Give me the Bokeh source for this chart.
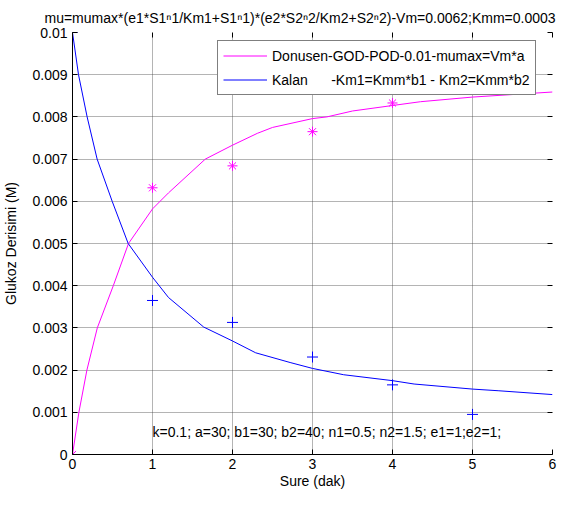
from bokeh.plotting import figure
from bokeh.models import FixedTicker, LinearAxis, Legend, LegendItem, Range1d, Title, Label
from bokeh.embed import file_html
from bokeh.resources import INLINE

FONT = "Liberation Sans"

title_text = "mu=mumax*(e1*S1\u207f1/Km1+S1\u207f1)*(e2*S2\u207f2/Km2+S2\u207f2)-Vm=0.0062;Kmm=0.0003"
x_label = "Sure (dak)"
y_label = "Glukoz Derisimi (M)"
legend_labels = ["Donusen-GOD-POD-0.01-mumax=Vm*a",
                 "Kalan\u00a0\u00a0\u00a0\u00a0\u00a0\u00a0-Km1=Kmm*b1 - Km2=Kmm*b2"]
note_text = "k=0.1; a=30; b1=30; b2=40; n1=0.5; n2=1.5; e1=1;e2=1;"

x_ticks = [0, 1, 2, 3, 4, 5, 6]
x_tick_labels = ["0", "1", "2", "3", "4", "5", "6"]
y_ticks = [0, 0.001, 0.002, 0.003, 0.004, 0.005, 0.006, 0.007, 0.008, 0.009, 0.01]
y_tick_labels = ["0", "0.001", "0.002", "0.003", "0.004", "0.005", "0.006", "0.007", "0.008", "0.009", "0.01"]

# model curves
donusen_t = [0, 0.08, 0.18, 0.31, 0.51, 0.70, 1.0, 1.2, 1.66, 2.0, 2.31, 2.5, 3.0, 3.18, 3.5, 4.0, 4.35, 5.0, 6.0]
donusen_y = [0, 0.001, 0.002, 0.003, 0.004, 0.005, 0.00582, 0.0062, 0.007, 0.00733, 0.00761, 0.00775,
             0.00796, 0.008, 0.00814, 0.00827, 0.00836, 0.00847, 0.00859]
kalan_t = [0, 0.075, 0.183, 0.308, 0.496, 0.696, 1.0, 1.2, 1.64, 2.0, 2.29, 2.72, 3.0, 3.39,
           4.0, 4.27, 5.0, 5.33, 6.0]
kalan_y = [0.01, 0.009, 0.008, 0.007, 0.006, 0.005, 0.0042, 0.00372, 0.00302, 0.00269,
           0.00241, 0.00218, 0.00204, 0.00189, 0.00175, 0.00167, 0.00155, 0.00151, 0.00142]

# measured points
donusen_pts_t = [0, 1, 2, 3, 4]
donusen_pts_y = [0, 0.00632, 0.00684, 0.00765, 0.00833]
kalan_pts_t = [0, 1, 2, 3, 4, 5]
kalan_pts_y = [0.01, 0.00365, 0.00313, 0.00231, 0.00165, 0.00095]

note_x = 1.0
note_y = 0.00053

MAGENTA = "#FF00FF"
BLUE = "#0000FF"

p = figure(width=560, height=491, x_range=Range1d(0, 6), y_range=Range1d(0, 0.01),
           output_backend="svg", toolbar_location=None,
           min_border_left=72, min_border_right=8, min_border_top=32, min_border_bottom=37)
p.background_fill_color = "white"
p.border_fill_color = "white"
p.outline_line_color = None

p.title = Title(text=title_text, align="left", offset=-28, text_font=FONT, text_font_size="14px",
                text_font_style="normal", text_color="black", standoff=14)

xt = FixedTicker(ticks=x_ticks)
yt = FixedTicker(ticks=y_ticks)
p.xaxis.ticker = xt
p.yaxis.ticker = yt
p.xaxis.major_label_overrides = {t: l for t, l in zip(x_ticks, x_tick_labels)}
p.yaxis.major_label_overrides = {t: l for t, l in zip(y_ticks, y_tick_labels)}

for ax in (p.xaxis[0], p.yaxis[0]):
    ax.axis_line_color = "black"
    ax.major_tick_line_color = "black"
    ax.major_tick_in = 5
    ax.major_tick_out = 0
    ax.minor_tick_line_color = None
    ax.major_label_text_font = FONT
    ax.major_label_text_font_size = "14px"
    ax.major_label_text_color = "black"
    ax.axis_label_text_font = FONT
    ax.axis_label_text_font_size = "14px"
    ax.axis_label_text_font_style = "normal"
    ax.axis_label_text_color = "black"

p.xaxis.axis_label = x_label
p.yaxis.axis_label = y_label
p.xaxis.major_label_standoff = 4
p.xaxis.axis_label_standoff = 1
p.yaxis.major_label_standoff = 5
p.yaxis.axis_label_standoff = 10

# top / right tick-only axes (no labels)
blank_x = {t: "" for t in x_ticks}
blank_y = {t: "" for t in y_ticks}
top_ax = LinearAxis(ticker=FixedTicker(ticks=x_ticks), axis_line_color=None, major_tick_in=5, major_tick_out=0,
                    minor_tick_line_color=None, major_label_overrides=blank_x, major_label_text_color=None,
                    major_label_text_font_size="1px", major_label_standoff=0, major_tick_line_color="black")
right_ax = LinearAxis(ticker=FixedTicker(ticks=y_ticks), axis_line_color=None, major_tick_in=5, major_tick_out=0,
                      minor_tick_line_color=None, major_label_overrides=blank_y, major_label_text_color=None,
                      major_label_text_font_size="1px", major_label_standoff=0, major_tick_line_color="black")
p.add_layout(top_ax, "above")
p.add_layout(right_ax, "right")

p.xgrid.ticker = xt
p.ygrid.ticker = yt
for g in (p.xgrid[0], p.ygrid[0]):
    g.grid_line_color = "#444444"
    g.grid_line_dash = "1 1"
    g.grid_line_width = 1
    g.grid_line_alpha = 0.8

r_don = p.line(donusen_t, donusen_y, line_color=MAGENTA, line_width=1)
r_kal = p.line(kalan_t, kalan_y, line_color=BLUE, line_width=1)
p.scatter(donusen_pts_t, donusen_pts_y, marker="asterisk", size=10, line_color=MAGENTA, line_width=1)
p.scatter(kalan_pts_t, kalan_pts_y, marker="cross", size=11, line_color=BLUE, line_width=1)

p.add_layout(Label(x=note_x, y=note_y, text=note_text, text_font=FONT, text_font_size="14px",
                   text_baseline="middle", text_align="left", text_color="black"))

legend = Legend(items=[LegendItem(label=legend_labels[0], renderers=[r_don]),
                       LegendItem(label=legend_labels[1], renderers=[r_kal])],
                location=(145, 359), orientation="vertical",
                label_text_font=FONT, label_text_font_size="14px", label_text_color="black",
                border_line_color="black", border_line_width=1, background_fill_color="white",
                background_fill_alpha=1.0, padding=5, spacing=5, label_height=19, glyph_height=19,
                glyph_width=44, label_standoff=5, margin=0)
p.add_layout(legend, "center")

open("out.html", "w").write(file_html(p, INLINE))
